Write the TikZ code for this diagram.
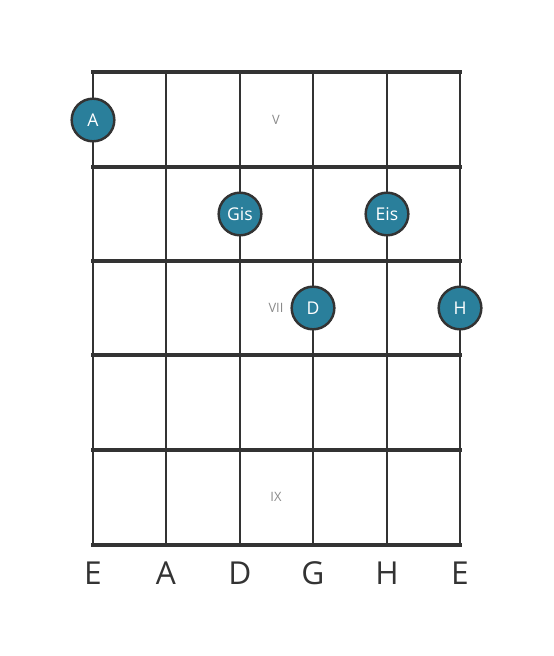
\documentclass[tikz,border=0pt]{standalone}
\usepackage{fontspec}
\setmainfont{Open Sans}
\usepackage{tikz}
\usetikzlibrary{positioning}

\definecolor{noteblue}{HTML}{2A7F9B}
\definecolor{gridgray}{HTML}{333333}
\definecolor{markgray}{HTML}{8A8A8A}

\begin{document}
\begin{tikzpicture}[x=0.03cm,y=-0.03cm,
  notedot/.style={circle,draw=gridgray,line width=2.1pt,fill=noteblue,
    minimum size=1.28cm,inner sep=0pt,text=white,font=\fontsize{15}{17}\selectfont},
  fretmark/.style={text=markgray,font=\fontsize{11}{13}\selectfont},
  stringname/.style={text=gridgray,font=\fontsize{27}{30}\selectfont}]
  \useasboundingbox (0,0) rectangle (553,656);
  % strings
  \foreach \x in {93,166,240,313,387,460}
  {
    \draw[gridgray,line width=2.4pt] (\x,72) -- (\x,545);
  }
  % frets
  \foreach \y in {72,167,261,355,450,545}
  {
    \draw[gridgray,line width=4pt] (91,\y) -- (462,\y);
  }
  % fret numbers
  \path (276,120) node[fretmark] (fretV) {V};
  \path (276,308) node[fretmark] (fretVII) {VII};
  \path (276,497) node[fretmark] (fretIX) {IX};
  % notes
  \node[notedot] (noteA) at (93,120) {A};
  \node[notedot] (noteGis) at (240,214) {Gis};
  \node[notedot] (noteEis) at (387,214) {Eis};
  \node[notedot] (noteD) at (313,308) {D};
  \node[notedot] (noteH) at (460,308) {H};
  % tuning
  \foreach \x/\nodeLabel in {93/E,166/A,240/D,313/G,387/H,460/E}
  {
    \path (\x,573) node[stringname] {\nodeLabel};
  }
\end{tikzpicture}
\end{document}
